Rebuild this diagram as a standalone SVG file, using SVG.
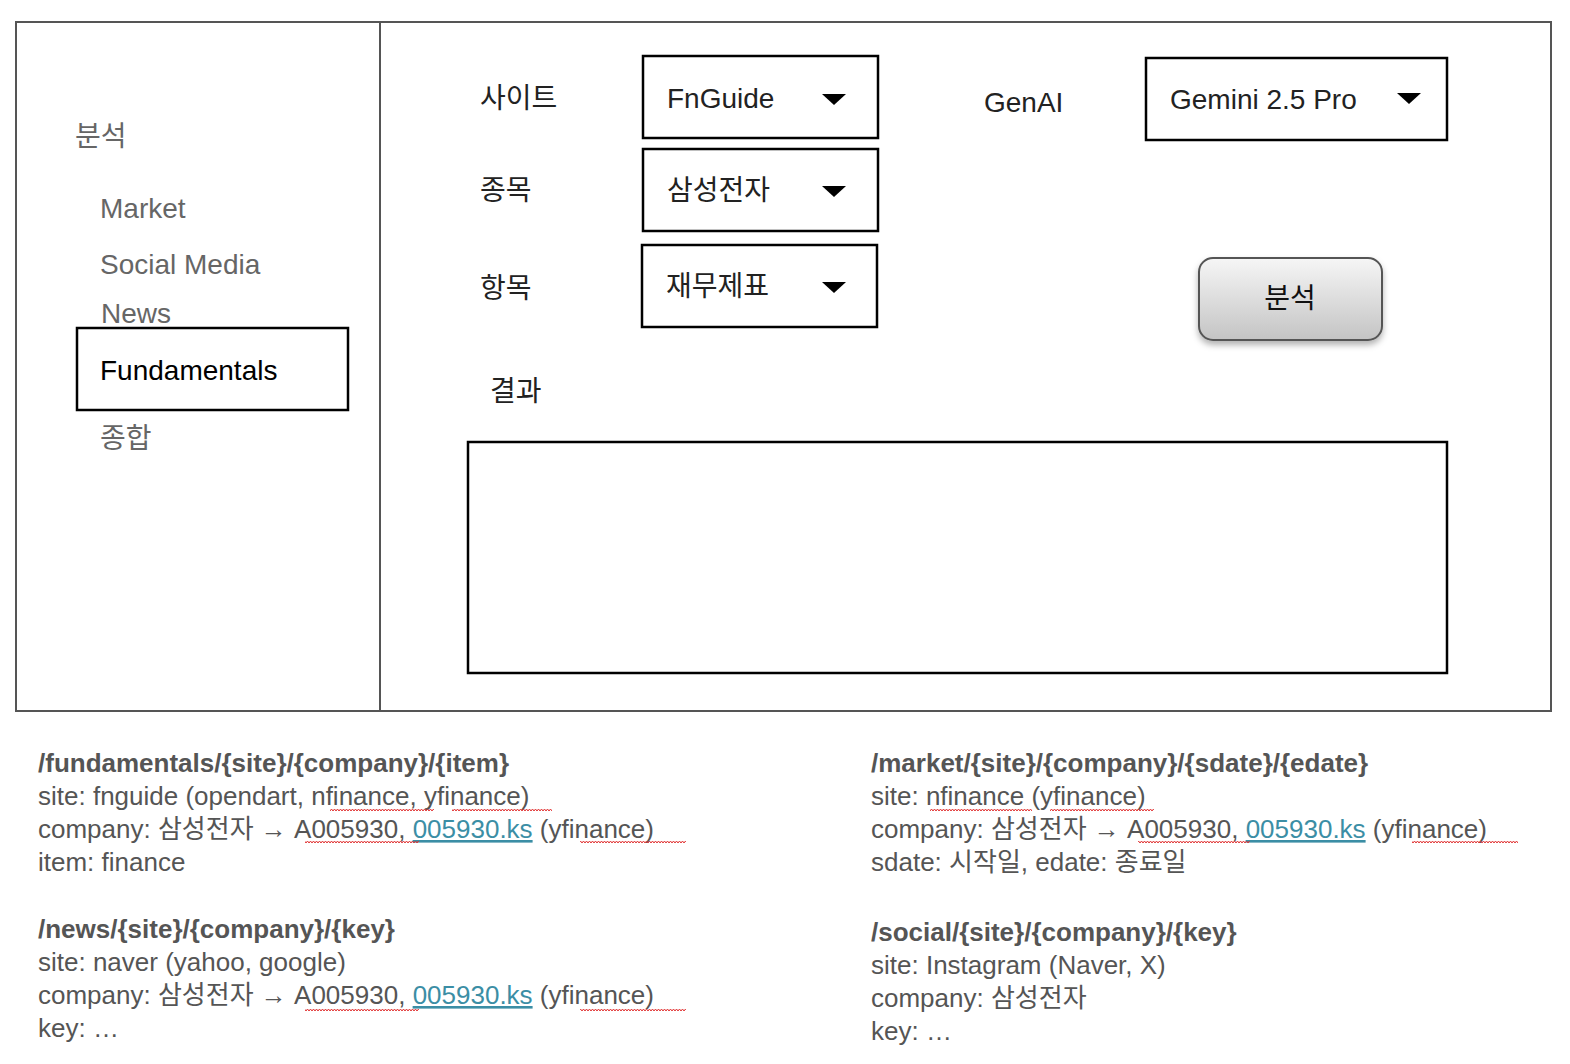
<svg xmlns="http://www.w3.org/2000/svg" width="1570" height="1064" viewBox="0 0 1570 1064">
<style>
.ui{font-family:"Liberation Sans","Noto Sans CJK KR",sans-serif;font-size:28px;fill:#222}
.side{font-family:"Liberation Sans","Noto Sans CJK KR",sans-serif;font-size:28px;fill:#666}
.box{fill:#fff;stroke:#000;stroke-width:2.5}
.frame{fill:none;stroke:#555;stroke-width:2}
.b{font-family:"Liberation Sans","Noto Sans CJK KR",sans-serif;font-size:26px;fill:#555}
.h{font-weight:bold}
.lk{fill:#3b8ea5;text-decoration:underline}
.sq{fill:url(#zz)}
</style>
<defs>
<pattern id="zz" width="6" height="4" patternUnits="userSpaceOnUse"><path d="M0 3 L1.5 1 L3 3 L4.5 1 L6 3" fill="none" stroke="#e03030" stroke-width="1"/></pattern>
<linearGradient id="btn" x1="0" y1="0" x2="0" y2="1"><stop offset="0" stop-color="#f6f6f6"/><stop offset="1" stop-color="#c4c4c4"/></linearGradient>
<filter id="sh" x="-10%" y="-10%" width="130%" height="140%"><feDropShadow dx="0" dy="4" stdDeviation="3" flood-color="#000" flood-opacity="0.3"/></filter>
</defs>
<rect x="0" y="0" width="1570" height="1064" fill="#fff"/>
<g id="frame"><rect class="frame" x="16" y="22" width="1535" height="689"/><line x1="380" y1="22" x2="380" y2="711" stroke="#555" stroke-width="2"/></g>
<g id="sidebar">
<text class="side" x="75" y="146">분석</text>
<text class="side" x="100" y="218">Market</text>
<text class="side" x="100" y="274">Social Media</text>
<text class="side" x="101" y="323">News</text>
<rect class="box" x="77" y="328" width="271" height="82"/>
<text class="ui" x="100" y="380" style="fill:#000">Fundamentals</text>
<text class="side" x="100" y="448">종합</text>
</g>
<g id="labels">
<text class="ui" x="480" y="108">사이트</text>
<text class="ui" x="480" y="200">종목</text>
<text class="ui" x="480" y="298">항목</text>
<text class="ui" x="490" y="401">결과</text>
<text class="ui" x="984" y="112">GenAI</text>
</g>
<g id="dd-site"><rect class="box" x="643" y="56" width="235" height="82"/><text class="ui" x="667" y="108">FnGuide</text><path d="M822 94 L846 94 L834 105 Z" fill="#000"/></g>
<g id="dd-company"><rect class="box" x="643" y="149" width="235" height="82"/><text class="ui" x="667" y="200">삼성전자</text><path d="M822 186 L846 186 L834 197 Z" fill="#000"/></g>
<g id="dd-item"><rect class="box" x="642" y="245" width="235" height="82"/><text class="ui" x="666" y="296">재무제표</text><path d="M822 282 L846 282 L834 293 Z" fill="#000"/></g>
<g id="dd-genai"><rect class="box" x="1146" y="58" width="301" height="82"/><text class="ui" x="1170" y="109">Gemini 2.5 Pro</text><path d="M1397 93 L1421 93 L1409 104 Z" fill="#000"/></g>
<g id="btn-analyze"><rect x="1199" y="258" width="183" height="82" rx="14" fill="url(#btn)" stroke="#555" stroke-width="2" filter="url(#sh)"/><text class="ui" x="1290" y="308" text-anchor="middle" style="fill:#111">분석</text></g>
<g id="result"><rect class="box" x="468" y="442" width="979" height="231"/></g>
<g id="notes">
<text class="b h" x="38" y="772">/fundamentals/{site}/{company}/{item}</text>
<text class="b" x="38" y="805">site: fnguide (opendart, nfinance, yfinance)</text>
<text class="b" x="38" y="838">company: 삼성전자 → A005930, <tspan class="lk">005930.ks</tspan> (yfinance)</text>
<text class="b" x="38" y="871">item: finance</text>
<text class="b h" x="38" y="938">/news/{site}/{company}/{key}</text>
<text class="b" x="38" y="971">site: naver (yahoo, google)</text>
<text class="b" x="38" y="1004">company: 삼성전자 → A005930, <tspan class="lk">005930.ks</tspan> (yfinance)</text>
<text class="b" x="38" y="1037">key: …</text>
<text class="b h" x="871" y="772">/market/{site}/{company}/{sdate}/{edate}</text>
<text class="b" x="871" y="805">site: nfinance (yfinance)</text>
<text class="b" x="871" y="838">company: 삼성전자 → A005930, <tspan class="lk">005930.ks</tspan> (yfinance)</text>
<text class="b" x="871" y="871">sdate: 시작일, edate: 종료일</text>
<text class="b h" x="871" y="941">/social/{site}/{company}/{key}</text>
<text class="b" x="871" y="974">site: Instagram (Naver, X)</text>
<text class="b" x="871" y="1007">company: 삼성전자</text>
<text class="b" x="871" y="1040">key: …</text>
</g>
<g id="spell">
<rect class="sq" x="330" y="807" width="104" height="4"/><rect class="sq" x="452" y="807" width="100" height="4"/>
<rect class="sq" x="305" y="841" width="114" height="4"/><rect class="sq" x="580" y="841" width="106" height="4"/>
<rect class="sq" x="305" y="1007" width="114" height="4"/><rect class="sq" x="580" y="1007" width="106" height="4"/>
<rect class="sq" x="930" y="807" width="102" height="4"/><rect class="sq" x="1050" y="807" width="104" height="4"/>
<rect class="sq" x="1138" y="841" width="112" height="4"/><rect class="sq" x="1412" y="841" width="106" height="4"/>
</g>
</svg>
